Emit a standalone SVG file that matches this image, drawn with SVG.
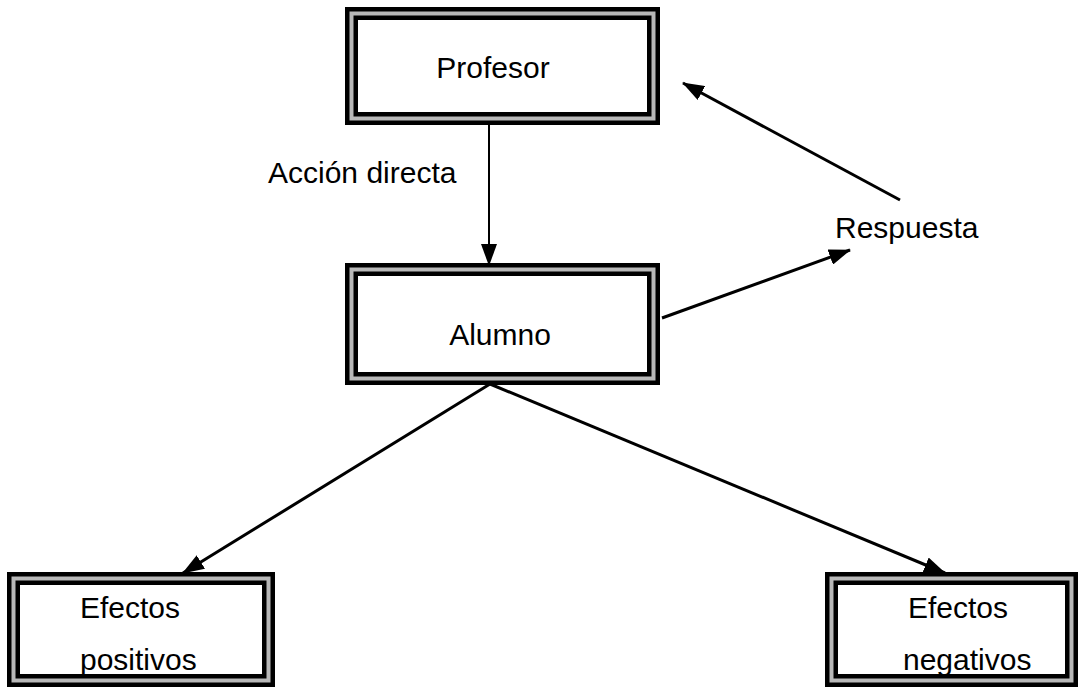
<svg xmlns="http://www.w3.org/2000/svg" width="1080" height="693" viewBox="0 0 1080 693">
<style>
.box-out{fill:#fff;stroke:#000;stroke-width:13}
.box-mid{fill:none;stroke:#b8b8b8;stroke-width:4}
.lbl{font-family:"Liberation Sans",Arial,sans-serif;font-size:30px;fill:#000}
.conn{stroke:#000;stroke-width:3;fill:none;marker-end:url(#ah)}
</style>
<defs>
<marker id="ah" markerUnits="userSpaceOnUse" markerWidth="22" markerHeight="16" refX="21" refY="8" orient="auto">
<path d="M0,0 L22,8 L0,16 z" fill="#000"/>
</marker>
</defs>
<rect width="1080" height="693" fill="#fff"/>
<g id="profesor">
<rect class="box-out" x="351.5" y="13.5" width="302" height="105"/>
<rect class="box-mid" x="351.5" y="13.5" width="302" height="105"/>
<text class="lbl" x="493" y="78" text-anchor="middle">Profesor</text>
</g>
<g id="alumno">
<rect class="box-out" x="351.5" y="269.5" width="302" height="109"/>
<rect class="box-mid" x="351.5" y="269.5" width="302" height="109"/>
<text class="lbl" x="500" y="345" text-anchor="middle">Alumno</text>
</g>
<g id="efectos-positivos">
<rect class="box-out" x="13.5" y="578.5" width="255" height="102"/>
<rect class="box-mid" x="13.5" y="578.5" width="255" height="102"/>
<text class="lbl" x="80" y="618">Efectos</text>
<text class="lbl" x="80" y="670">positivos</text>
</g>
<g id="efectos-negativos">
<rect class="box-out" x="831.5" y="578.5" width="240" height="102"/>
<rect class="box-mid" x="831.5" y="578.5" width="240" height="102"/>
<text class="lbl" x="908" y="618">Efectos</text>
<text class="lbl" x="903" y="670">negativos</text>
</g>
<g id="labels">
<text class="lbl" x="268" y="183">Acción directa</text>
<text class="lbl" x="835" y="238">Respuesta</text>
</g>
<g id="connectors">
<line class="conn" x1="489" y1="125" x2="489" y2="265" style="stroke-width:2"/>
<line class="conn" x1="662" y1="318" x2="850" y2="250"/>
<line class="conn" x1="900" y1="200" x2="683" y2="83"/>
<line class="conn" x1="490" y1="384" x2="183" y2="573"/>
<line class="conn" x1="490" y1="384" x2="945" y2="573"/>
</g>
</svg>
